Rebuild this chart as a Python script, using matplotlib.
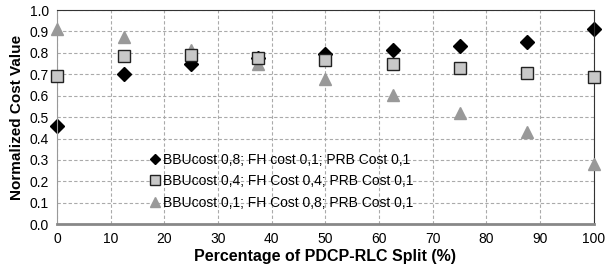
import matplotlib.pyplot as plt

plt.rcParams['font.family'] = ['Liberation Sans', 'DejaVu Sans']

# 데이터
split = [0, 12.5, 25, 37.5, 50, 62.5, 75, 87.5, 100]
bbu08 = [0.46, 0.70, 0.75, 0.777, 0.795, 0.813, 0.833, 0.850, 0.912]
bbu04 = [0.69, 0.785, 0.79, 0.775, 0.765, 0.750, 0.730, 0.708, 0.688]
bbu01 = [0.91, 0.875, 0.815, 0.748, 0.676, 0.601, 0.521, 0.430, 0.282]
labels = ['BBUcost 0,8; FH cost 0,1; PRB Cost 0,1',
          'BBUcost 0,4; FH Cost 0,4; PRB Cost 0,1',
          'BBUcost 0,1; FH Cost 0,8; PRB Cost 0,1']

fig = plt.figure(figsize=(6.06, 2.72), dpi=100)
ax = fig.add_axes([0.094, 0.176, 0.886, 0.787])

ax.plot(split, bbu01, '^', color='#999999', markersize=9, label=labels[2], zorder=3, clip_on=False)
ax.plot(split, bbu04, 's', color='#c8c8c8', markeredgecolor='#222222', markeredgewidth=1,
        markersize=9, label=labels[1], zorder=4, clip_on=False)
ax.plot(split, bbu08, 'D', color='black', markersize=7, label=labels[0], zorder=2, clip_on=False)

ax.set_xlim(0, 100)
ax.set_ylim(0, 1.0)
ax.set_xticks(range(0, 101, 10))
ax.set_yticks([i / 10 for i in range(11)])
ax.set_yticklabels([f'{i / 10:.1f}' for i in range(11)])
ax.tick_params(labelsize=10, length=0, pad=6)

ax.grid(True, linestyle=(0, (3, 2)), color='#aaaaaa', linewidth=0.8)
ax.set_axisbelow(True)
for s in ['top', 'right']:
    ax.spines[s].set_color('#333333')
ax.spines['left'].set_color('#999999')
ax.spines['bottom'].set_color('#888888')
ax.spines['bottom'].set_linewidth(2)

ax.set_xlabel('Percentage of PDCP-RLC Split (%)', fontsize=11.5, fontweight='bold', labelpad=2)
ax.set_ylabel('Normalized Cost Value', fontsize=11, fontweight='bold')

h, l = ax.get_legend_handles_labels()
ax.legend(h[::-1], l[::-1], loc='upper left', bbox_to_anchor=(0.157, 0.36), frameon=False,
          fontsize=10, handletextpad=0.0, labelspacing=0.55, borderaxespad=0, handlelength=1.2,
          markerscale=0.8)

plt.savefig('out.png', dpi=100)
